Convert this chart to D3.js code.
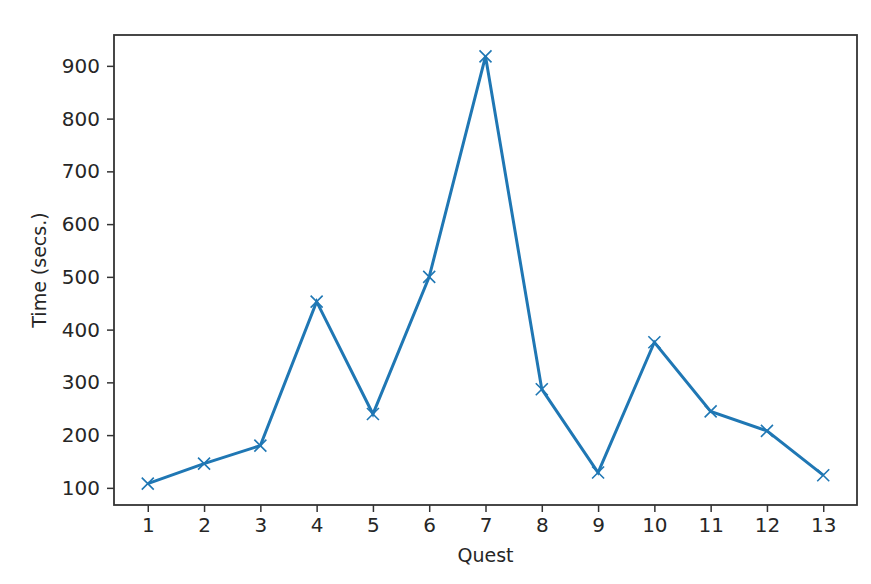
<!DOCTYPE html>
<html>
<head>
<meta charset="utf-8">
<script src="https://cdn.jsdelivr.net/npm/d3@7"></script>
<style>
  body { margin: 0; background: #fff; }
  svg text { font-family: "DejaVu Sans", sans-serif; fill: #262626; }
</style>
</head>
<body>
<svg id="chart" width="871" height="584"></svg>
<script>
// quest numbers and completion times
var quests = [1, 2, 3, 4, 5, 6, 7, 8, 9, 10, 11, 12, 13];
var times = [108, 146, 180, 453, 240, 500, 918, 287, 129, 376, 245, 208, 124];
var yTicks = [100, 200, 300, 400, 500, 600, 700, 800, 900];

var svg = d3.select("#chart");
// plot box (note: "top" is taken by window.top, so prefix these)
var plotLeft = 114, plotRight = 857, plotTop = 35, plotBottom = 505;

// matplotlib style 5% margins around the data
var xMin = d3.min(quests), xMax = d3.max(quests);
var xPad = (xMax - xMin) * 0.05;
var x = d3.scaleLinear().domain([xMin - xPad, xMax + xPad]).range([plotLeft, plotRight]);

var yMin = d3.min(times), yMax = d3.max(times);
var yPad = (yMax - yMin) * 0.05;
var y = d3.scaleLinear().domain([yMin - yPad, yMax + yPad]).range([plotBottom, plotTop]);

// x axis
var xAxis = svg.append("g")
  .attr("transform", "translate(0," + plotBottom + ")")
  .call(d3.axisBottom(x).tickValues(quests).tickSize(7).tickPadding(6));

// y axis
var yAxis = svg.append("g")
  .attr("transform", "translate(" + plotLeft + ",0)")
  .call(d3.axisLeft(y).tickValues(yTicks).tickSize(7).tickPadding(7));

[xAxis, yAxis].forEach(function (a) {
  a.select(".domain").remove();
  a.selectAll("line").attr("stroke", "#333").attr("stroke-width", 1.5);
  a.selectAll("text").attr("font-size", 20).attr("font-family", "DejaVu Sans").attr("fill", "#262626");
});

// frame around the plot
svg.append("rect")
  .attr("x", plotLeft).attr("y", plotTop)
  .attr("width", plotRight - plotLeft).attr("height", plotBottom - plotTop)
  .attr("fill", "none").attr("stroke", "#333").attr("stroke-width", 1.8);

// the line
var line = d3.line()
  .x(function (d, i) { return x(quests[i]); })
  .y(function (d) { return y(d); });

svg.append("path")
  .datum(times)
  .attr("d", line)
  .attr("fill", "none")
  .attr("stroke", "#1f77b4")
  .attr("stroke-width", 3);

// x markers
var m = 6;
var marks = svg.append("g").selectAll("g")
  .data(times)
  .enter()
  .append("g")
  .attr("transform", function (d, i) { return "translate(" + x(quests[i]) + "," + y(d) + ")"; });

marks.append("path")
  .attr("d", "M" + (-m) + "," + (-m) + "L" + m + "," + m + "M" + (-m) + "," + m + "L" + m + "," + (-m))
  .attr("stroke", "#1f77b4")
  .attr("stroke-width", 1.6);

// axis labels
svg.append("text")
  .attr("x", (plotLeft + plotRight) / 2)
  .attr("y", 562)
  .attr("text-anchor", "middle")
  .attr("font-size", 19)
  .text("Quest");

svg.append("text")
  .attr("transform", "translate(46," + ((plotTop + plotBottom) / 2) + ") rotate(-90)")
  .attr("text-anchor", "middle")
  .attr("font-size", 19)
  .text("Time (secs.)");
</script>
</body>
</html>
